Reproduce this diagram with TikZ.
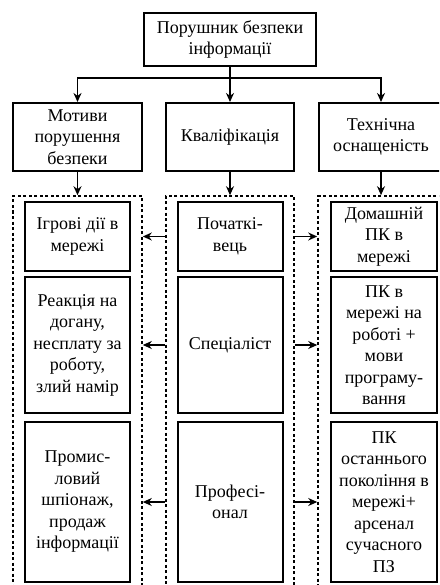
\documentclass[tikz,border=0pt]{standalone}
\usepackage{fontspec}
\setmainfont{Liberation Serif}
\newfontfamily\boxfont{Liberation Serif}
\usetikzlibrary{arrows.meta}
\begin{document}
\begin{tikzpicture}[x=1pt,y=-1pt,
  box/.style={draw, line width=2pt, align=center, inner sep=2pt,
    font=\boxfont\fontsize{18}{21.5}\selectfont},
  group/.style={draw, line width=1.6pt, dash pattern=on 3pt off 2.5pt},
  arr/.style={line width=1.8pt, -{Stealth[length=9pt,width=8pt]}}]
\useasboundingbox (0,0) rectangle (439,585);
\clip (0,0) rectangle (439,585);
% top
\node[box, minimum width=172, minimum height=53] (top) at (230,39.5) {Порушник безпеки\\інформації};
\node[box, minimum width=129, minimum height=68] (mot) at (77.5,137) {Мотиви\\порушення\\безпеки};
\node[box, minimum width=128, minimum height=68] (qual) at (230,137) {Кваліфікація};
\node[box, minimum width=124, minimum height=68] (tech) at (381,137) {Технічна\\оснащеність};
% groups
\node[group, minimum width=129, minimum height=404] (grpL) at (77.5,398) {};
\node[group, minimum width=128, minimum height=404] (grpM) at (230,398) {};
\node[group, minimum width=132, minimum height=404] (grpR) at (384,398) {};
% left column
\node[box, minimum width=105, minimum height=69] (l1) at (77.5,236.5) {Ігрові дії в\\мережі};
\node[box, minimum width=105, minimum height=136] (l2) at (77.5,345) {Реакція на\\догану,\\несплату за\\роботу,\\злий намір};
\node[box, minimum width=105, minimum height=160] (l3) at (77.5,502) {Промис-\\ловий\\шпіонаж,\\продаж\\інформації};
% middle column
\node[box, minimum width=105, minimum height=69] (m1) at (230,236.5) {Початкі-\\вець};
\node[box, minimum width=105, minimum height=136] (m2) at (230,345) {Спеціаліст};
\node[box, minimum width=105, minimum height=160] (m3) at (230,502) {Професі-\\онал};
% right column
\node[box, minimum width=106, minimum height=69] (r1) at (384,236.5) {Домашній\\ПК в\\мережі};
\node[box, minimum width=106, minimum height=136] (r2) at (384,345) {ПК в\\мережі на\\роботі +\\мови\\програму-\\вання};
\node[box, minimum width=106, minimum height=160] (r3) at (384,502) {ПК\\останнього\\покоління в\\мережі+\\арсенал\\сучасного\\ПЗ};
% connectors
\draw[arr] (top.south) -- ++(0,11) -| (mot.north);
\draw[arr] (top.south) -- ++(0,11) -| (tech.north);
\draw[arr] (top.south) -- (qual.north);
\draw[arr] (mot.south) -- (grpL.north);
\draw[arr] (qual.south) -- (grpM.north);
\draw[arr] (tech.south) -- (tech.south |- grpR.north);
\foreach \i in {1,2,3} {
  \draw[arr] (m\i.center -| grpM.west) -- (m\i.center -| grpL.east);
  \draw[arr] (m\i.center -| grpM.east) -- (m\i.center -| grpR.west);
}
\end{tikzpicture}
\end{document}
